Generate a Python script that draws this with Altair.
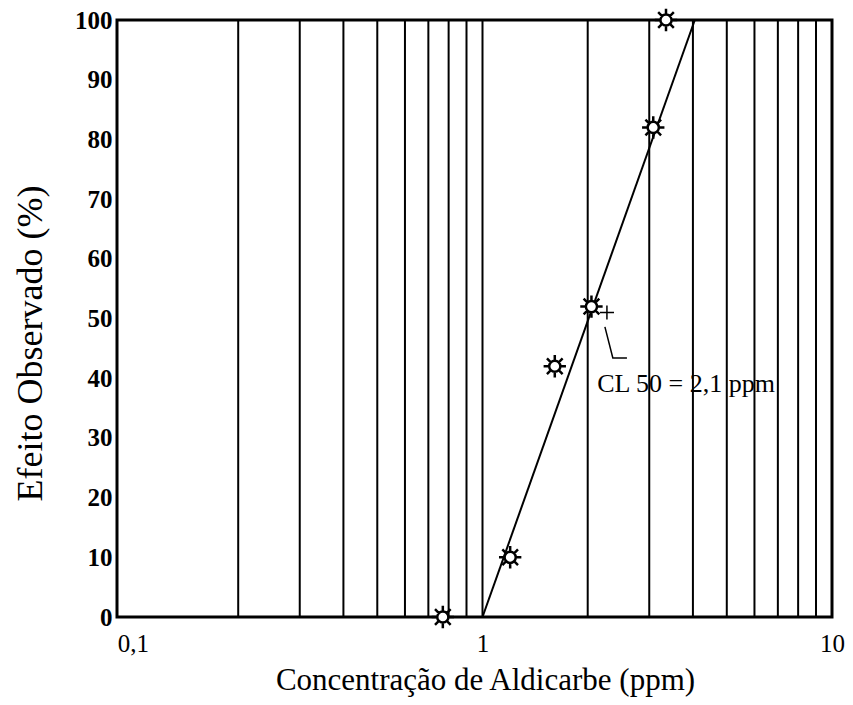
import altair as alt
import pandas as pd

# data
obs_conc = [0.77, 1.2, 1.61, 2.05, 3.08, 3.35]
obs_effect = [0, 10, 42, 52, 82, 100]

fit_conc = [1.0, 4.05]
fit_effect = [0, 100]

grid_values = [0.2, 0.3, 0.4, 0.5, 0.6, 0.7, 0.8, 0.9, 1, 2, 3, 4, 5, 6, 7, 8, 9]

cl50_conc = [2.27]
cl50_effect = [51]
leader_conc = [2.24, 2.36, 2.59]
leader_effect = [48.6, 43.4, 43.4]
label_conc = [2.13]
label_effect = [39]
label_text = ["CL 50 = 2,1 ppm"]

x_ticks = [0.1, 1, 10]
y_ticks = [0, 10, 20, 30, 40, 50, 60, 70, 80, 90, 100]

SERIF = "Liberation Serif"

xscale = alt.Scale(type="log", domain=[0.09, 10], nice=False)
yscale = alt.Scale(domain=[0, 100], nice=False)

obs_df = pd.DataFrame({"c": obs_conc, "e": obs_effect})
fit_df = pd.DataFrame({"c": fit_conc, "e": fit_effect})
grid_df = pd.DataFrame({"c": grid_values})
cl_df = pd.DataFrame({"c": cl50_conc, "e": cl50_effect})
lead_df = pd.DataFrame({"c": leader_conc, "e": leader_effect, "o": [0, 1, 2]})
lab_df = pd.DataFrame({"c": label_conc, "e": label_effect, "t": label_text})

x_axis = alt.Axis(
    values=x_ticks,
    labelExpr="datum.value < 0.5 ? '0,1' : (datum.value < 5 ? '1' : '10')",
    title="Concentração de Aldicarbe (ppm)",
    grid=False,
    ticks=False,
    domain=False,
    labelFont=SERIF,
    labelFontSize=25,
    labelColor="black",
    labelPadding=14,
    labelFlush=False,
    titleFont=SERIF,
    titleFontSize=31,
    titleFontWeight="normal",
    titleColor="black",
    titleBaseline="alphabetic",
    titleX=368,
    titleY=72,
)
y_axis = alt.Axis(
    values=y_ticks,
    title="Efeito Observado (%)",
    grid=False,
    ticks=False,
    domain=False,
    labelFont=SERIF,
    labelFontSize=25,
    labelFontWeight="bold",
    labelColor="black",
    labelPadding=5,
    labelFlush=False,
    titleFont=SERIF,
    titleFontSize=36,
    titleFontWeight="normal",
    titleColor="black",
    titleAngle=270,
    titleAlign="center",
    titleBaseline="middle",
    titleX=-87,
    titleY=323,
)

x_enc = alt.X("c:Q", scale=xscale, axis=x_axis)
y_enc = alt.Y("e:Q", scale=yscale, axis=y_axis)

grid = alt.Chart(grid_df).mark_rule(color="black", strokeWidth=2).encode(x=x_enc)

fit = alt.Chart(fit_df).mark_line(color="black", strokeWidth=2).encode(x=x_enc, y=y_enc)

sun = (
    "M0.5,0 A0.5,0.5 0 1,1 -0.5,0 A0.5,0.5 0 1,1 0.5,0 Z "
    "M0.5,0 L1,0 M-0.5,0 L-1,0 M0,0.5 L0,1 M0,-0.5 L0,-1 "
    "M0.35,0.35 L0.7,0.7 M-0.35,0.35 L-0.7,0.7 M0.35,-0.35 L0.7,-0.7 M-0.35,-0.35 L-0.7,-0.7"
)

pts = alt.Chart(obs_df).mark_point(
    shape=sun, size=500, filled=False, fill="white", fillOpacity=1,
    stroke="black", strokeWidth=2.5, opacity=1
).encode(x=x_enc, y=y_enc)

cl = alt.Chart(cl_df).mark_point(
    shape="M-1,0 L1,0 M0,-1 L0,1", size=200, filled=False, stroke="black",
    strokeWidth=1.5, opacity=1
).encode(x=x_enc, y=y_enc)

leader = alt.Chart(lead_df).mark_line(color="black", strokeWidth=1.5).encode(
    x=x_enc, y=y_enc, order="o:Q"
)

label = alt.Chart(lab_df).mark_text(
    font=SERIF, fontSize=26, align="left", baseline="middle", color="black"
).encode(x=x_enc, y=y_enc, text="t:N")

chart = (
    alt.layer(grid, fit, leader, pts, cl, label)
    .properties(
        width=715,
        height=597,
        autosize=alt.AutoSizeParams(type="none"),
        padding={"left": 109, "top": 12, "right": 13, "bottom": 80},
        background="white",
    )
    .configure_view(stroke="black", strokeWidth=3)
)

chart.save("out.html", embed_options={"renderer": "svg", "actions": False})
